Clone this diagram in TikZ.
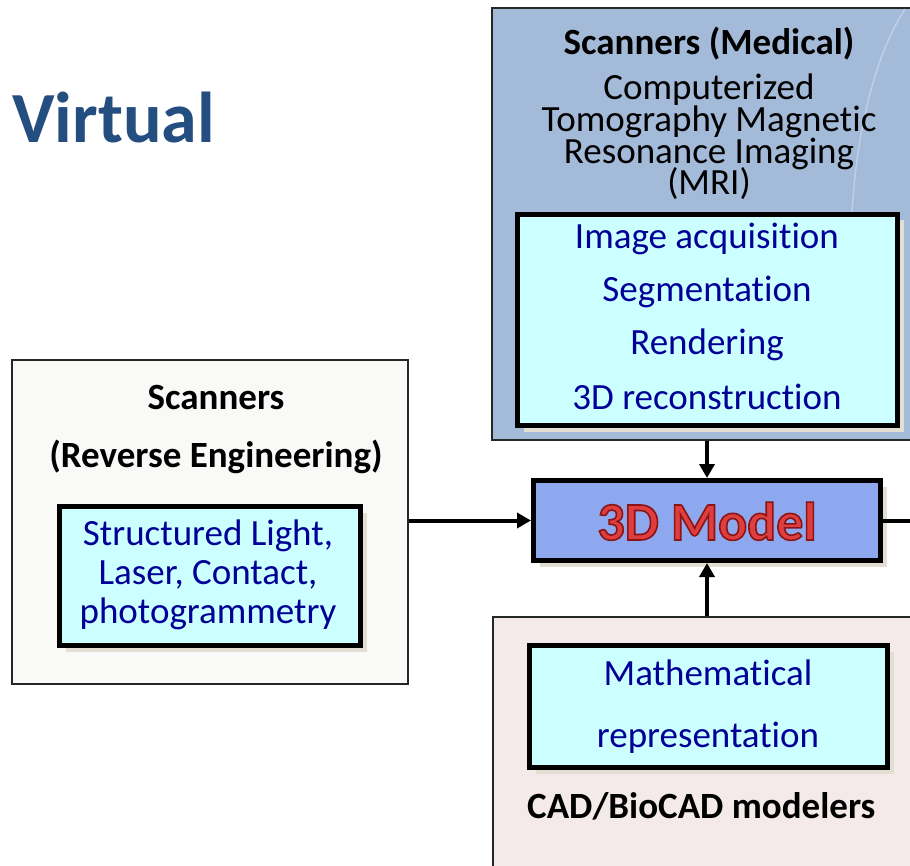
\documentclass[tikz,border=0pt]{standalone}
\usepackage{fontspec}
\setmainfont[RawFeature={-liga;-clig;-dlig;-calt}]{Carlito}
\usepackage{tikz}
\usetikzlibrary{arrows.meta,shadows}
\pgfdeclarelayer{bg}
\pgfsetlayers{bg,main}

\definecolor{titleblue}{RGB}{36,78,128}
\definecolor{medfill}{RGB}{163,187,217}
\definecolor{revfill}{RGB}{249,249,247}
\definecolor{cadfill}{RGB}{244,234,233}
\definecolor{boxcyan}{RGB}{204,255,255}
\definecolor{itemblue}{RGB}{0,0,150}
\definecolor{modelfill}{RGB}{142,168,240}
\definecolor{modelred}{RGB}{222,62,62}
\definecolor{shadebeige}{RGB}{226,223,210}

\newcommand{\outlined}[1]{\special{pdf:literal direct q 2 Tr 1.6 w 0.55 0.08 0.08 RG}#1\special{pdf:literal direct Q}}

\tikzset{
  panel/.style={draw=black!85, line width=1.3pt, inner sep=0pt},
  inbox/.style={draw=black, line width=5pt, fill=boxcyan, inner sep=0pt,
    drop shadow={shadow xshift=6pt, shadow yshift=-6pt, fill=shadebeige, opacity=1}},
  head/.style={anchor=base, inner sep=0pt, font=\bfseries\fontsize{37}{40}\selectfont},
  plain/.style={anchor=base, inner sep=0pt, font=\fontsize{37}{40}\selectfont},
  item/.style={plain, text=itemblue},
  link/.style={line width=4pt, -{Triangle[length=14pt,width=15pt]}}
}

\begin{document}
\begin{tikzpicture}[x=1pt, y=-1pt]
  \useasboundingbox (0,0) rectangle (910,866);
  \clip (0,0) rectangle (910,866);

  \node (title) [anchor=base west, inner sep=0pt, text=titleblue,
    font=\bfseries\fontsize{72}{80}\selectfont] at (12,143) {Virtual};

  \begin{pgfonlayer}{bg}
    \fill [white] (0,0) rectangle (910,866);
    \node (med) [panel, fill=medfill, minimum width=440pt, minimum height=432pt] at (712,224) {};
    \draw [white, opacity=0.3, line width=1.5pt] (905,9) .. controls (872,60) and (856,140) .. (852,214);
    \node (rev) [panel, fill=revfill, minimum width=396pt, minimum height=324pt] at (210,522) {};
    \node (cad) [panel, fill=cadfill, minimum width=439pt, minimum height=263pt] at (712.5,748.5) {};
  \end{pgfonlayer}

  \node (medhead) [head] at (709,55) {Scanners (Medical)};
  \node (ct1) [plain] at (709,100) {Computerized};
  \node (ct2) [plain] at (709,132) {Tomography Magnetic};
  \node (ct3) [plain] at (709,164) {Resonance Imaging};
  \node (ct4) [plain] at (709,195) {(MRI)};

  \node (medsteps) [inbox, minimum width=380pt, minimum height=211pt] at (707.5,320) {};
  \node (acq) [item] at (707,249) {Image acquisition};
  \node (seg) [item] at (707,302) {Segmentation};
  \node (ren) [item] at (707,355) {Rendering};
  \node (rec) [item] at (707,409) {3D reconstruction};

  \node (revhead) [head] at (216,409) {Scanners};
  \node (revsub) [head] at (216,467) {(Reverse Engineering)};
  \node (revtech) [inbox, minimum width=301pt, minimum height=139pt] at (210,576) {};
  \node (sl) [item] at (208,545) {Structured Light,};
  \node (lc) [item] at (208,584) {Laser, Contact,};
  \node (ph) [item] at (208,623) {photogrammetry};

  \node (math) [inbox, minimum width=358pt, minimum height=122pt] at (708.5,706.5) {};
  \node (m1) [item] at (708,685) {Mathematical};
  \node (m2) [item] at (708,747) {representation};
  \node (cadhead) [head, anchor=base west] at (527,818) {CAD/BioCAD modelers};

  \node (model) [inbox, fill=modelfill, minimum width=347pt, minimum height=80pt] at (707,520.5) {};
  \node (modeltxt) [anchor=base, inner sep=0pt, text=modelred,
    font=\bfseries\fontsize{54}{60}\selectfont] at (707,540) {\outlined{3D Model}};

  \coordinate (out) at (915,520.5);
  \draw [link] (med.south -| model.north) -- (model.north);
  \draw [link] (cad.north -| model.south) -- (model.south);
  \draw [link] (model.west -| rev.east) -- (model.west);
  \draw [line width=4pt] (model.east) -- (out);
\end{tikzpicture}
\end{document}
